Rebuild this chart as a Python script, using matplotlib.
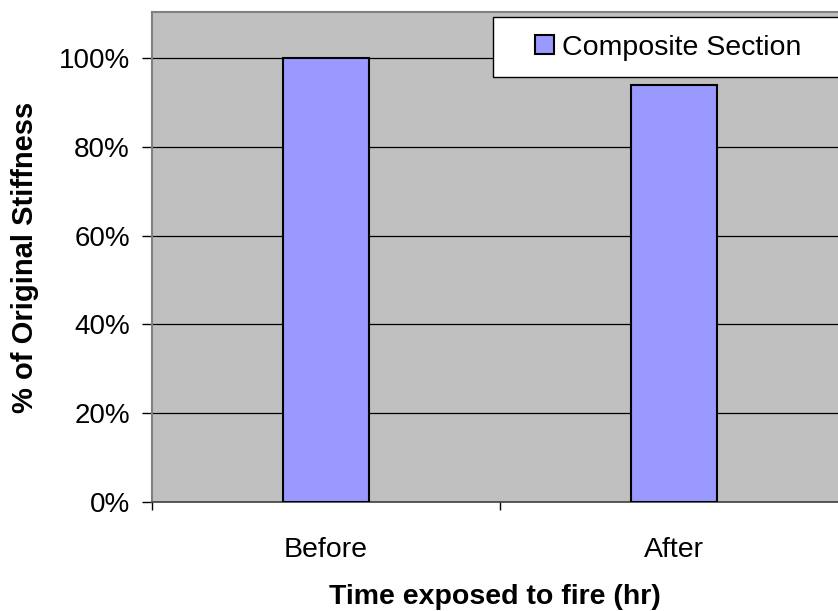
import numpy as np
import matplotlib.pyplot as plt
from matplotlib.patches import Rectangle
from matplotlib.container import BarContainer
from matplotlib.legend_handler import HandlerPatch, update_from_first_child
from matplotlib.ticker import FixedLocator, PercentFormatter

# Data
categories = ["Before", "After"]
stiffness = [1.00, 0.94]
series_name = "Composite Section"
y_ticks = [0.0, 0.2, 0.4, 0.6, 0.8, 1.0]

plt.rcParams['font.family'] = ['Liberation Sans', 'DejaVu Sans']

fig = plt.figure(figsize=(8.38, 6.11), dpi=100)
ax = fig.add_axes([152/838, 109/611, 686/838, 490/611])
ax.set_facecolor('#C0C0C0')

x = np.arange(len(categories)) + 0.5
ax.bar(x, stiffness, width=0.247, color='#9999FF', edgecolor='black',
       linewidth=1.5, label=series_name, zorder=3)

ax.set_xlim(0, 686/348)
ax.set_ylim(0, 1.104)

ax.set_yticks(y_ticks)
ax.yaxis.set_major_formatter(PercentFormatter(1.0, decimals=0))
ax.yaxis.grid(True, color='black', linewidth=0.9, zorder=1)
ax.set_axisbelow(True)

# category labels centred, tick marks at boundaries
ax.xaxis.set_major_locator(FixedLocator([0, 1, 2]))
ax.xaxis.set_major_formatter(plt.NullFormatter())
ax.xaxis.set_minor_locator(FixedLocator(x))
ax.set_xticklabels(categories, minor=True)
ax.tick_params(axis='x', which='minor', length=0, pad=25, labelsize=20.5)
ax.tick_params(axis='x', which='major', length=6, direction='out', width=1)
ax.tick_params(axis='y', length=7, direction='out', width=1, labelsize=20, pad=9)

for side in ['top', 'left']:
    ax.spines[side].set_color('#808080')
    ax.spines[side].set_linewidth(1.5)
ax.spines['bottom'].set_color('#404040')
ax.spines['bottom'].set_linewidth(1.2)
ax.spines['right'].set_visible(False)

ax.set_ylabel("% of Original Stiffness", fontsize=21, fontweight='bold', labelpad=14)
ax.set_xlabel("Time exposed to fire (hr)", fontsize=20.5, fontweight='bold', labelpad=15)


# legend marker: small square pushed to the right of a wide handle box
def square_patch(legend, orig_handle, xdescent, ydescent, width, height, fontsize):
    s = 13.7
    return Rectangle((-xdescent + width - s, -ydescent + (height - s) / 2), s, s)


# legend box runs off the right edge of the figure, as in the original
leg = fig.legend(loc='upper left', bbox_to_anchor=(493/838, 1 - 17/611, 0.5, 0),
                 mode='expand',
                 fontsize=20.5, frameon=True, fancybox=False, framealpha=1,
                 edgecolor='black', handlelength=1.54, handleheight=0.8,
                 handletextpad=0.28, borderpad=0.59, borderaxespad=0,
                 handler_map={BarContainer: HandlerPatch(patch_func=square_patch,
                                                         update_func=update_from_first_child)})
leg.get_frame().set_linewidth(1.0)
leg.set_zorder(5)

fig.savefig("out.png", dpi=100)
